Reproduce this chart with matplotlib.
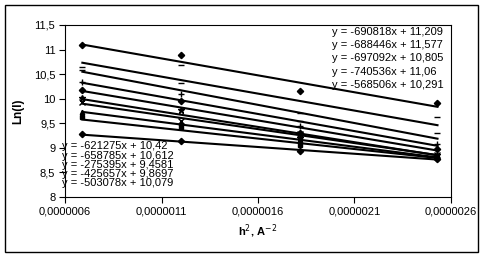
import numpy as np
import matplotlib
matplotlib.use("Agg")
import matplotlib.pyplot as plt
from matplotlib.patches import Rectangle
from matplotlib.ticker import FuncFormatter, MultipleLocator

# h^2 values (A^-2) shared by all series
h2 = [0.00000069, 0.0000012, 0.00000182, 0.00000253]

# Ln(I), one list per series
ln_i = [
    [10.65, 10.69, 9.70, 9.62],
    [11.10, 10.89, 10.15, 9.92],
    [10.33, 10.10, 9.45, 9.07],
    [10.58, 10.31, 9.55, 9.30],
    [9.93, 9.55, 9.28, 8.85],
    [10.01, 9.78, 9.20, 8.86],
    [10.17, 9.96, 9.30, 8.97],
    [9.28, 9.14, 8.94, 8.77],
    [9.62, 9.42, 9.05, 8.80],
    [9.72, 9.50, 9.15, 8.82],
]

# trendline equations shown on the chart
slopes = [-690818, -688446, -697092, -740536, -568506,
          -621275, -658785, -275395, -425657, -503078]
intercepts = [11.209, 11.577, 10.805, 11.06, 10.291,
              10.42, 10.612, 9.4581, 9.8697, 10.079]

markers = ['_', 'D', '+', '_', 'x', '*', 'D', 'D', 's', '^']

x_ticks = [0.0000006, 0.0000011, 0.0000016, 0.0000021, 0.0000026]

W, H = 483, 257
fig = plt.figure(figsize=(W / 100, H / 100), dpi=100)
plt.rcParams['font.family'] = ['Liberation Sans', 'DejaVu Sans']

# outer chart border
fig.patches.append(Rectangle((5 / W, 1 - 252 / H), 473 / W, 247 / H,
                             transform=fig.transFigure, fill=False,
                             edgecolor='black', linewidth=1))

ax = fig.add_axes([65 / W, 1 - 197 / H, (451 - 65) / W, (197 - 25) / H])

xs = np.array([min(h2), max(h2)])
for ys, m, k, b in zip(ln_i, markers, slopes, intercepts):
    ax.plot(xs, k * xs + b, color='black', linewidth=1.5, zorder=2)
    ms = 3.2 if m in ('D', 's', '^') else 5
    ax.plot(h2, ys, linestyle='none', marker=m, color='black',
            markersize=ms, markeredgewidth=1.0, zorder=3)

ax.set_xlim(0.0000006, 0.0000026)
ax.set_ylim(8, 11.5)
ax.set_xticks(x_ticks)
ax.yaxis.set_major_locator(MultipleLocator(0.5))


def comma(v, pos=None):
    s = f"{v:g}"
    return s.replace('.', ',')


ax.xaxis.set_major_formatter(FuncFormatter(lambda v, p: f"{v:.7f}".replace('.', ',')))
ax.yaxis.set_major_formatter(FuncFormatter(comma))
ax.tick_params(labelsize=8, length=4, width=0.8, direction='out', pad=3)
for sp in ax.spines.values():
    sp.set_linewidth(0.8)

ax.set_xlabel('h$^2$, A$^{-2}$', fontsize=8, fontweight='bold', labelpad=4)
ax.set_ylabel('Ln(I)', fontsize=8.5, fontweight='bold', labelpad=7)


def eq_text(k, b):
    return f"y = {k}x + {str(b).replace('.', ',')}"


# equation labels, top right block and bottom left block
top_y = [32, 45, 58, 72, 85]
for i, yy in enumerate(top_y):
    fig.text(332 / W, 1 - yy / H, eq_text(slopes[i], intercepts[i]),
             fontsize=8, va='center', ha='left')

bottom_y = [146, 156, 165, 174, 183]
for i, yy in enumerate(bottom_y):
    fig.text(62 / W, 1 - yy / H, eq_text(slopes[5 + i], intercepts[5 + i]),
             fontsize=8, va='center', ha='left')

fig.savefig('out.png', dpi=100)
